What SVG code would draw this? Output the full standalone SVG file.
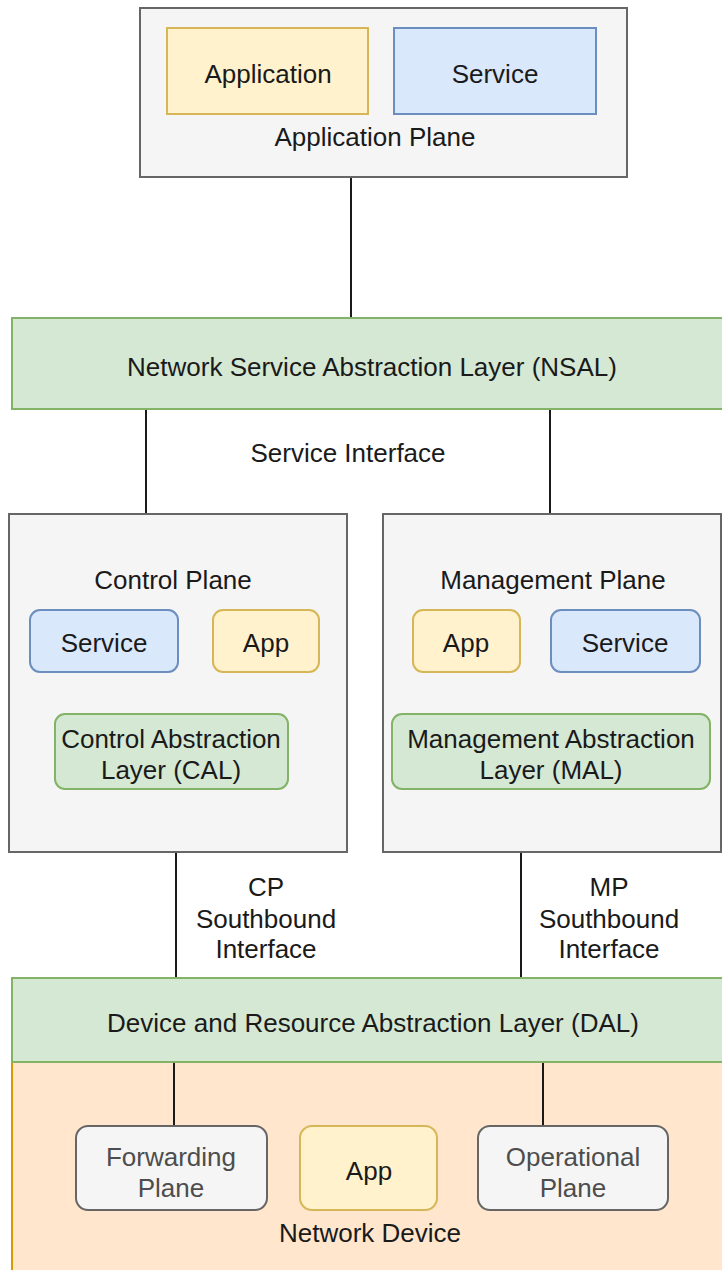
<svg xmlns="http://www.w3.org/2000/svg" width="722" height="1270" viewBox="0 0 722 1270">
  <style>
    text { font-family: "Liberation Sans", Arial, sans-serif; font-size: 26px; fill: #1a1a1a; text-anchor: middle; }
    .gray { fill: #f5f5f5; stroke: #666666; stroke-width: 2; }
    .yellow { fill: #fff2cc; stroke: #d6b656; stroke-width: 2; }
    .blue { fill: #dae8fc; stroke: #6c8ebf; stroke-width: 2; }
    .green { fill: #d5e8d4; stroke: #82b366; stroke-width: 2; }
    .orange { fill: #ffe6cc; stroke: #d79b00; stroke-width: 2; }
    .dim { fill: #4d4d4d; }
    .wire { stroke: #1a1a1a; stroke-width: 2; fill: none; }
  </style>

  <!-- Network device container, drawn first so the DAL bar sits on top -->
  <g id="network-device">
    <rect class="orange" x="12" y="1062" width="720" height="220"/>
    <text x="370" y="1242">Network Device</text>
  </g>

  <!-- Connectors -->
  <g id="connectors">
    <line class="wire" x1="351" y1="177" x2="351" y2="318"/>
    <line class="wire" x1="146" y1="409" x2="146" y2="514"/>
    <line class="wire" x1="550" y1="409" x2="550" y2="514"/>
    <line class="wire" x1="176" y1="852" x2="176" y2="978"/>
    <line class="wire" x1="521" y1="852" x2="521" y2="978"/>
    <line class="wire" x1="174" y1="1062" x2="174" y2="1126"/>
    <line class="wire" x1="543" y1="1062" x2="543" y2="1126"/>
  </g>

  <g id="application-plane">
    <rect class="gray" x="140" y="8" width="487" height="169"/>
    <text x="375" y="146">Application Plane</text>
  </g>
  <g id="ap-application">
    <rect class="yellow" x="167" y="28" width="201" height="86"/>
    <text x="268" y="83">Application</text>
  </g>
  <g id="ap-service">
    <rect class="blue" x="394" y="28" width="202" height="86"/>
    <text x="495" y="83">Service</text>
  </g>

  <g id="nsal">
    <rect class="green" x="12" y="318" width="720" height="91"/>
    <text x="372" y="376">Network Service Abstraction Layer (NSAL)</text>
  </g>

  <g id="service-interface-label">
    <text x="348" y="462">Service Interface</text>
  </g>

  <g id="control-plane">
    <rect class="gray" x="9" y="514" width="338" height="338"/>
    <text x="173" y="589">Control Plane</text>
  </g>
  <g id="cp-service">
    <rect class="blue" x="30" y="610" width="148" height="62" rx="10"/>
    <text x="104" y="652">Service</text>
  </g>
  <g id="cp-app">
    <rect class="yellow" x="213" y="610" width="106" height="62" rx="10"/>
    <text x="266" y="652">App</text>
  </g>
  <g id="cal">
    <rect class="green" x="55" y="714" width="233" height="75" rx="10"/>
    <text x="171" y="748">Control Abstraction</text>
    <text x="171" y="779">Layer (CAL)</text>
  </g>

  <g id="management-plane">
    <rect class="gray" x="383" y="514" width="338" height="338"/>
    <text x="553" y="589">Management Plane</text>
  </g>
  <g id="mp-app">
    <rect class="yellow" x="413" y="610" width="107" height="62" rx="10"/>
    <text x="466" y="652">App</text>
  </g>
  <g id="mp-service">
    <rect class="blue" x="551" y="610" width="149" height="62" rx="10"/>
    <text x="625" y="652">Service</text>
  </g>
  <g id="mal">
    <rect class="green" x="392" y="714" width="318" height="75" rx="10"/>
    <text x="551" y="748">Management Abstraction</text>
    <text x="551" y="779">Layer (MAL)</text>
  </g>

  <g id="cp-southbound-label">
    <text x="266" y="896">CP</text>
    <text x="266" y="928">Southbound</text>
    <text x="266" y="958">Interface</text>
  </g>
  <g id="mp-southbound-label">
    <text x="609" y="896">MP</text>
    <text x="609" y="928">Southbound</text>
    <text x="609" y="958">Interface</text>
  </g>

  <g id="dal">
    <rect class="green" x="12" y="978" width="720" height="84"/>
    <text x="373" y="1032">Device and Resource Abstraction Layer (DAL)</text>
  </g>

  <g id="forwarding-plane">
    <rect class="gray" x="76" y="1126" width="191" height="84" rx="12"/>
    <text class="dim" x="171" y="1166">Forwarding</text>
    <text class="dim" x="171" y="1197">Plane</text>
  </g>
  <g id="device-app">
    <rect class="yellow" x="300" y="1126" width="137" height="84" rx="12"/>
    <text x="369" y="1180">App</text>
  </g>
  <g id="operational-plane">
    <rect class="gray" x="478" y="1126" width="190" height="84" rx="12"/>
    <text class="dim" x="573" y="1166">Operational</text>
    <text class="dim" x="573" y="1197">Plane</text>
  </g>
</svg>
